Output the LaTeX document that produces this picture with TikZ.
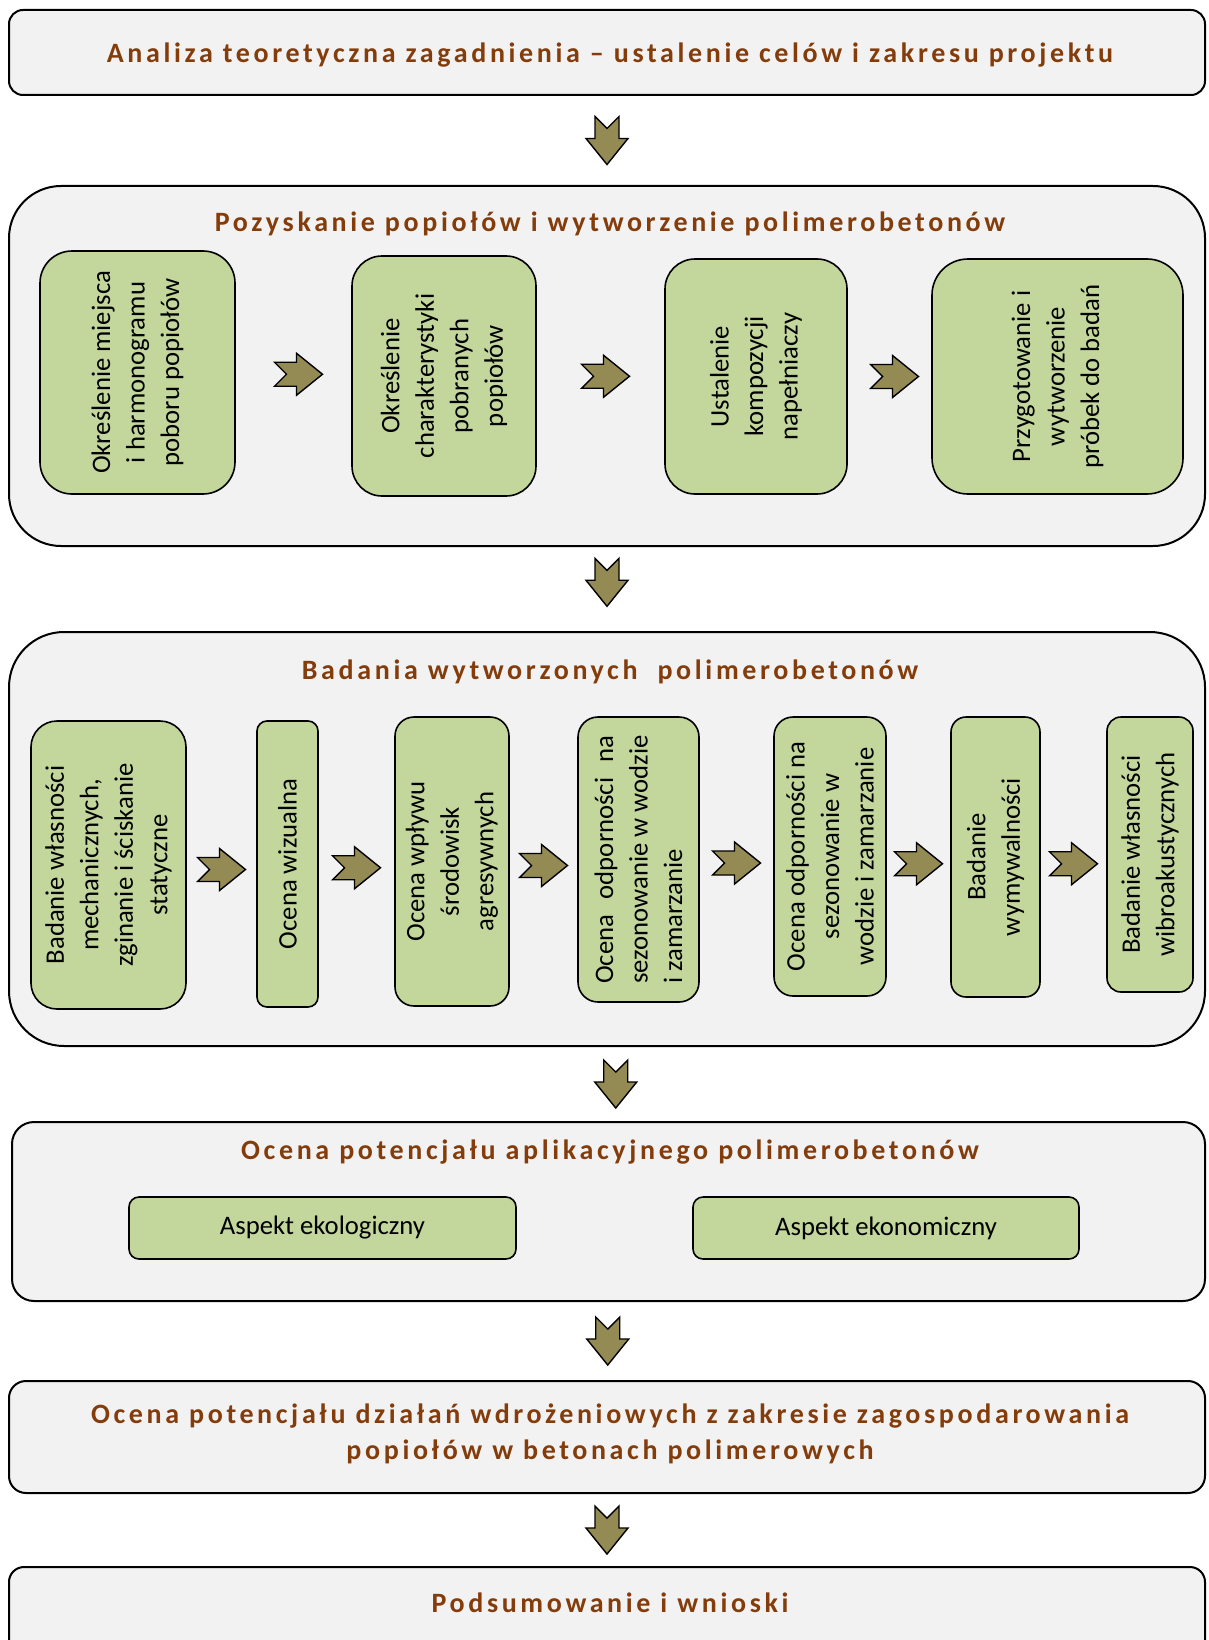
\documentclass[tikz,border=0pt]{standalone}
\usepackage{fontspec}
\setmainfont{Carlito}
\newfontfamily\headfont{Carlito}[LetterSpace=13]
\usetikzlibrary{calc}
\definecolor{panelgray}{HTML}{F2F2F2}
\definecolor{stepgreen}{HTML}{C3D69B}
\definecolor{arrowolive}{HTML}{948A54}
\definecolor{titlebrown}{HTML}{843C0B}
\newlength\odplen

\begin{document}
\begin{tikzpicture}[x=1pt,y=-1pt,
    panel/.style={draw=black, line width=2pt, fill=panelgray, inner sep=0pt},
    stage/.style={draw=black, line width=1.6pt, fill=stepgreen, inner sep=0pt, align=center, font=\fontsize{26.7}{34.5}\selectfont},
    vstage/.style={stage, rotate=90},
    headline/.style={text=titlebrown, align=center, font=\headfont\bfseries\fontsize{28}{36}\selectfont},
    blockarrow/.pic={\draw[black, line width=1.4pt, fill=arrowolive, line join=miter]
        (-24,-12) -- (-2,-12) -- (-2,-21) -- (24,0) -- (-2,21) -- (-2,12) -- (-24,12) -- (-12,0) -- cycle;}]
    \useasboundingbox (0,0) rectangle (1208,1640);
    \clip (0,0) rectangle (1208,1640);

    % Analiza
    \node[panel, rounded corners=14pt, minimum width=1196, minimum height=85] (analiza) at (607,52.5) {};
    \node[headline] (analizaT) at (610,55) {Analiza teoretyczna zagadnienia – ustalenie celów i zakresu projektu};

    % Pozyskanie popiolow
    \node[panel, rounded corners=52pt, minimum width=1196, minimum height=360] (pozysk) at (607,366) {};
    \node[headline] (pozyskT) at (610,224) {Pozyskanie popiołów i wytworzenie polimerobetonów};
    \node[vstage, rounded corners=32pt, minimum width=243, minimum height=195] (miejsce) at (137.5,372.5) {Określenie miejsca\\i harmonogramu\\poboru popiołów};
    \node[vstage, rounded corners=30pt, minimum width=240, minimum height=184] (charakt) at (444,376) {Określenie\\charakterystyki\\pobranych\\popiołów};
    \node[vstage, rounded corners=30pt, minimum width=235, minimum height=182] (kompoz) at (756,376.5) {Ustalenie\\kompozycji\\napełniaczy};
    \node[vstage, rounded corners=36pt, minimum width=235, minimum height=251] (probki) at (1057.5,376.5) {Przygotowanie i\\wytworzenie\\próbek do badań};
    \pic at ($(miejsce.south)!0.5!(charakt.north)+(5,0)$) {blockarrow};
    \pic at ($(charakt.south)!0.5!(kompoz.north)+(5,0)$) {blockarrow};
    \pic at ($(kompoz.south)!0.5!(probki.north)+(5,0)$) {blockarrow};

    % Badania
    \node[panel, rounded corners=55pt, minimum width=1196, minimum height=414] (badania) at (607,839) {};
    \node[headline] (badaniaT) at (610,672) {Badania wytworzonych\ \ polimerobetonów};
    \node[vstage, rounded corners=26pt, minimum width=288, minimum height=155] (mech) at (108.5,865) {Badanie własności\\mechanicznych,\\zginanie i ściskanie\\statyczne};
    \node[vstage, rounded corners=10pt, minimum width=286, minimum height=61] (wizual) at (287.5,864) {Ocena wizualna};
    \node[vstage, rounded corners=19pt, minimum width=289, minimum height=114] (agres) at (452,861.5) {Ocena wpływu\\środowisk\\agresywnych};
    \node[vstage, align=left, rounded corners=20pt, minimum width=285, minimum height=121] (odpwoda) at (638.5,859.5) {\settowidth\odplen{sezonowanie w wodzie}\makebox[\odplen][s]{Ocena odporności na}\\sezonowanie w wodzie\\i zamarzanie};
    \node[vstage, rounded corners=19pt, minimum width=279, minimum height=112] (odpzamr) at (830,856.5) {Ocena odporności na\\sezonowanie w\\wodzie i zamarzanie};
    \node[vstage, rounded corners=15pt, minimum width=280, minimum height=89] (wymyw) at (995.5,857) {Badanie\\wymywalności};
    \node[vstage, rounded corners=14pt, minimum width=275, minimum height=86] (wibro) at (1150,854.5) {Badanie własności\\wibroakustycznych};
    \pic at ($(mech.south)!0.5!(wizual.north)+(0,5)$) {blockarrow};
    \pic at ($(wizual.south)!0.5!(agres.north)+(0,5)$) {blockarrow};
    \pic at ($(agres.south)!0.5!(odpwoda.north)+(0,5)$) {blockarrow};
    \pic at ($(odpwoda.south)!0.5!(odpzamr.north)+(0,5)$) {blockarrow};
    \pic at ($(odpzamr.south)!0.5!(wymyw.north)+(0,7)$) {blockarrow};
    \pic at ($(wymyw.south)!0.5!(wibro.north)+(0,8)$) {blockarrow};

    % Ocena potencjalu aplikacyjnego
    \node[panel, rounded corners=22pt, minimum width=1193, minimum height=179] (aplik) at (608.5,1211.5) {};
    \node[headline] (aplikT) at (610,1152) {Ocena potencjału aplikacyjnego polimerobetonów};
    \node[stage, rounded corners=10pt, minimum width=387, minimum height=62] (ekolog) at (322.5,1228) {Aspekt ekologiczny};
    \node[stage, rounded corners=10pt, minimum width=386, minimum height=62] (ekonom) at (886,1228) {Aspekt ekonomiczny};

    % Ocena dzialan wdrozeniowych
    \node[panel, rounded corners=17pt, minimum width=1196, minimum height=112] (wdroz) at (607,1437) {};
    \node[headline] (wdrozT) at (610,1434) {Ocena potencjału działań wdrożeniowych z zakresie zagospodarowania\\popiołów w betonach polimerowych};

    % Podsumowanie
    \node[panel, rounded corners=15pt, minimum width=1196, minimum height=150] (podsum) at (607,1642) {};
    \node[headline] (podsumT) at (610,1603) {Podsumowanie i wnioski};

    % strzalki miedzy etapami
    \pic[rotate=-90] at ($(analiza.south)!0.5!(pozysk.north)$) {blockarrow};
    \pic[rotate=-90] at ($(pozysk.south)!0.42!(badania.north)$) {blockarrow};
    \pic[rotate=-90] at ($(badania.south)!0.5!(aplik.north)+(8,0)$) {blockarrow};
    \pic[rotate=-90] at ($(aplik.south)!0.5!(wdroz.north)$) {blockarrow};
    \pic[rotate=-90] at ($(wdroz.south)!0.5!(podsum.north)$) {blockarrow};
\end{tikzpicture}
\end{document}
